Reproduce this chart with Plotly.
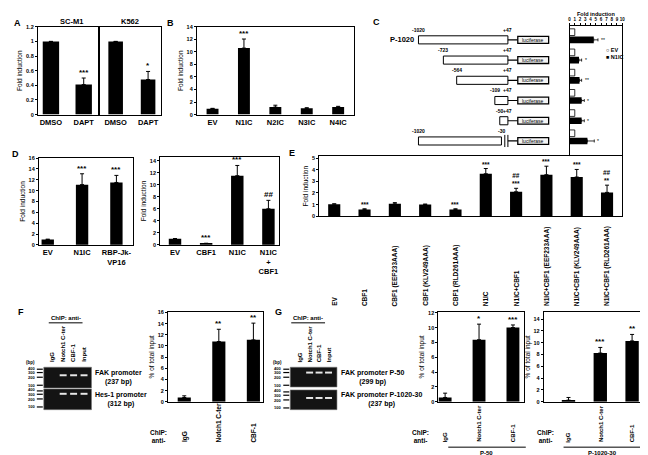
import math
import plotly.graph_objects as go

W, H = 648, 455
FONT = "Arial, Liberation Sans, sans-serif"

# ---------------- DATA ----------------
a_categories = ["DMSO", "DAPT"]
a_scm1_values = [1.0, 0.41]
a_scm1_errors = [0.0, 0.09]
a_scm1_sig = ["", "***"]
a_k562_values = [1.0, 0.48]
a_k562_errors = [0.0, 0.11]
a_k562_sig = ["", "*"]

b_categories = ["EV", "N1IC", "N2IC", "N3IC", "N4IC"]
b_values = [0.95, 10.6, 1.2, 1.0, 1.2]
b_errors = [0.05, 1.45, 0.3, 0.1, 0.12]
b_sig = ["", "***", "", "", ""]

c_constructs = ["P-1020", "P-723", "P-564", "P-109", "P-50", "P-1020-30"]
c_starts = [-1020, -723, -564, -109, -50, -1020]
c_ends = [47, 47, 47, 47, 47, -30]
c_sites = [-320, 12]
c_ev_values = [1, 1, 1, 1, 1, 1]
c_n1ic_values = [4.6, 1.8, 1.9, 2.3, 2.3, 3.4]
c_n1ic_errors = [0.8, 0.5, 0.4, 0.5, 0.5, 1.3]
c_sig = ["**", "*", "**", "*", "*", "*"]
c_ticks = list(range(0, 11))

d1_categories = ["EV", "N1IC", "RBP-Jk-VP16"]
d1_labels = ["EV", "N1IC", "RBP-Jk-<br>VP16"]
d1_values = [1.0, 11.1, 11.5]
d1_errors = [0.05, 2.0, 1.3]
d1_sig = ["", "***", "***"]

d2_categories = ["EV", "CBF1", "N1IC", "N1IC+CBF1"]
d2_labels = ["EV", "CBF1", "N1IC", "N1IC<br>+<br>CBF1"]
d2_values = [1.0, 0.22, 11.5, 6.0]
d2_errors = [0.05, 0.05, 1.7, 1.4]
d2_sig = ["", "***", "***", "##"]

e_categories = ["EV", "CBF1", "CBF1 (EEF233AAA)", "CBF1 (KLV249AAA)", "CBF1 (RLD261AAA)",
                "N1IC", "N1IC+CBF1", "N1IC+CBF1 (EEF233AAA)", "N1IC+CBF1 (KLV249AAA)",
                "N1IC+CBF1 (RLD261AAA)"]
e_values = [1.04, 0.59, 1.07, 1.0, 0.59, 3.65, 2.1, 3.57, 3.37, 2.05]
e_errors = [0.03, 0.05, 0.1, 0.05, 0.05, 0.45, 0.3, 0.73, 0.65, 0.62]
e_sig = ["", "***", "", "", "***", "***", "##<br>***", "***", "***", "##<br>**"]

chip_categories = ["IgG", "Notch1 C-ter", "CBF-1"]
f_values = [0.77, 10.8, 11.1]
f_errors = [0.3, 2.2, 3.0]
f_sig = ["", "**", "**"]
g1_values = [0.58, 8.36, 10.0]
g1_errors = [0.58, 2.1, 0.35]
g1_sig = ["", "*", "***"]
g2_values = [0.28, 8.25, 10.3]
g2_errors = [0.45, 0.95, 1.1]
g2_sig = ["", "***", "**"]

gel_lanes = ["IgG", "Notch1 C-ter", "CBF-1", "Input"]
ladder_bp = [400, 300, 200, 100]
band_present = [0, 1, 1, 1]
f_gel_products = [("FAK promoter", 237), ("Hes-1 promoter", 312)]
g_gel_products = [("FAK promoter P-50", 299), ("FAK promoter P-1020-30", 237)]

# ---------------- HELPERS ----------------
def PX(x):
    return x / W

def PY(y):
    return 1 - y / H

def xd(l, r):
    return [l / W, r / W]

def yd(t, b):
    return [1 - b / H, 1 - t / H]

fig = go.Figure()
annotations = []
shapes = []

def txt(text, x, y, size=7, bold=False, xa="center", ya="middle", angle=0, align="center", **kw):
    if bold:
        text = "<b>" + text.replace("<br>", "</b><br><b>") + "</b>"
    d = dict(text=text, x=PX(x), y=PY(y), xref="paper", yref="paper", showarrow=False,
             xanchor=xa, yanchor=ya, textangle=angle, align=align,
             font=dict(family=FONT, size=size, color="black"))
    d.update(kw)
    annotations.append(d)

axis_x = dict(showline=True, linecolor="black", linewidth=1, mirror=True, ticks="",
              showgrid=False, zeroline=False,
              tickfont=dict(family=FONT, size=7.5, color="black", weight="bold"))
axis_y = dict(showline=True, linecolor="black", linewidth=1, mirror=True, ticks="outside",
              ticklen=2, tickwidth=1, tickcolor="black", showgrid=False, zeroline=False,
              tickfont=dict(family=FONT, size=5.5, color="black", weight="bold"))

layout_axes = {}

def add_axis(n, box, xr, yr, dtick=None, ytitle=None, xlabels=None, cats=None, show_x_labels=True,
             show_y_labels=True, y_ticks=True):
    l, r, t, b = box
    xk = "xaxis" if n == 1 else f"xaxis{n}"
    yk = "yaxis" if n == 1 else f"yaxis{n}"
    ax = dict(axis_x, domain=xd(l, r), range=xr, anchor=f"y{n if n > 1 else ''}")
    if cats is not None:
        ax.update(type="category", tickvals=cats, ticktext=xlabels or cats,
                  showticklabels=show_x_labels, tickangle=0)
    ay = dict(axis_y, domain=yd(t, b), range=yr, anchor=f"x{n if n > 1 else ''}",
              showticklabels=show_y_labels)
    if dtick is not None:
        ay["dtick"] = dtick
    if not y_ticks:
        ay["ticks"] = ""
    if ytitle:
        ay["title"] = dict(text=ytitle, font=dict(family=FONT, size=6.5, color="black"), standoff=2)
    layout_axes[xk] = ax
    layout_axes[yk] = ay


def add_bars(n, cats, vals, errs, sig, width, star_size=8):
    xa = "x" if n == 1 else f"x{n}"
    ya = "y" if n == 1 else f"y{n}"
    fig.add_trace(go.Bar(x=cats, y=vals, xaxis=xa, yaxis=ya, width=width,
                         marker=dict(color="black", line=dict(width=0)),
                         error_y=dict(type="data", array=errs, arrayminus=[0] * len(errs),
                                      symmetric=False, color="black", thickness=1, width=2),
                         showlegend=False, hoverinfo="skip"))
    for c, v, e, s in zip(cats, vals, errs, sig):
        if s:
            annotations.append(dict(text="<b>" + s + "</b>", x=c, y=v + e, xref=xa, yref=ya,
                                    showarrow=False, yanchor="bottom", yshift=-1,
                                    font=dict(family=FONT, size=star_size, color="black")))

# ---------------- PANEL A ----------------
add_axis(1, (29, 91, 16, 105), [-0.4, 1.48], [0, 1.2], dtick=0.2, ytitle="Fold induction",
         cats=a_categories)
add_axis(2, (91, 153, 16, 105), [-0.5, 1.4], [0, 1.2], dtick=0.2, cats=a_categories,
         show_y_labels=False, y_ticks=False)
add_bars(1, a_categories, a_scm1_values, a_scm1_errors, a_scm1_sig, 0.5)
add_bars(2, a_categories, a_k562_values, a_k562_errors, a_k562_sig, 0.45)
txt("A", 9, 12, size=9, bold=True)
txt("SC-M1", 63, 11, size=7.5, bold=True)
txt("K562", 122, 11, size=7.5, bold=True)

# ---------------- PANEL B ----------------
add_axis(3, (189, 347, 16, 105), [-0.5, 4.5], [0, 14], dtick=2, ytitle="Fold induction",
         cats=b_categories)
add_bars(3, b_categories, b_values, b_errors, b_sig, 0.38)
txt("B", 163, 12, size=9, bold=True)

# ---------------- PANEL C ----------------
c_rows = list(range(len(c_constructs)))
c_yrange = [5.98, -0.51]
layout_axes["xaxis4"] = dict(axis_x, domain=xd(564, 617), range=[0, 10], side="top",
                             ticks="outside", ticklen=2, tickcolor="black", tickvals=c_ticks,
                             tickangle=0,
                             tickfont=dict(family=FONT, size=4.5, color="black", weight="bold"),
                             anchor="y4",
                             title=dict(text="<b>Fold induction</b>", standoff=0,
                                        font=dict(family=FONT, size=5.5, color="black")))
layout_axes["yaxis4"] = dict(axis_y, domain=yd(15, 148), range=c_yrange, ticks="",
                             showticklabels=False, anchor="x4")
fig.add_trace(go.Bar(y=c_rows, x=c_ev_values, orientation="h", xaxis="x4", yaxis="y4",
                     width=0.33, offset=-0.36,
                     marker=dict(color="white", line=dict(color="black", width=0.8)),
                     showlegend=False, hoverinfo="skip"))
fig.add_trace(go.Bar(y=c_rows, x=c_n1ic_values, orientation="h", xaxis="x4", yaxis="y4",
                     width=0.33, offset=0.02,
                     marker=dict(color="black", line=dict(width=0)),
                     error_x=dict(type="data", array=c_n1ic_errors,
                                  arrayminus=[0] * len(c_n1ic_errors), symmetric=False,
                                  color="black", thickness=0.8, width=1.5),
                     showlegend=False, hoverinfo="skip"))
for i, v, e, s in zip(c_rows, c_n1ic_values, c_n1ic_errors, c_sig):
    annotations.append(dict(text=s, x=v + e, y=i + 0.185, xref="x4", yref="y4", showarrow=False,
                            xanchor="left", xshift=1,
                            font=dict(family=FONT, size=5, color="black")))
txt("○ EV", 599, 40, size=5.5, bold=True, xa="left")
txt("■ N1IC", 599, 47, size=5.5, bold=True, xa="left")

# promoter diagram axis (bp coordinates)
LUC_X0, LUC_X1 = 165, 533
layout_axes["xaxis5"] = dict(domain=xd(400, 560), range=[-1162.3, 734.6], visible=False,
                             anchor="y5", fixedrange=True)
layout_axes["yaxis5"] = dict(domain=yd(15, 148), range=c_yrange, visible=False, anchor="x5")
site_x, site_y = [], []
for i, (s0, s1) in enumerate(zip(c_starts, c_ends)):
    yc = i + 0.185
    shapes.append(dict(type="rect", xref="x5", yref="y5", x0=s0, x1=s1, y0=yc - 0.2,
                       y1=yc + 0.2, line=dict(color="black", width=1), fillcolor="white"))
    for st in c_sites:
        if s0 <= st <= s1:
            site_x.append(st)
            site_y.append(yc)
    if s1 > 0:
        shapes.append(dict(type="line", xref="x5", yref="y5", x0=s1, x1=LUC_X0, y0=yc, y1=yc,
                           line=dict(color="black", width=1.2)))
    else:
        shapes.append(dict(type="line", xref="x5", yref="y5", x0=47, x1=47, y0=yc - 0.3,
                           y1=yc + 0.3, line=dict(color="black", width=1)))
        shapes.append(dict(type="line", xref="x5", yref="y5", x0=s1 + 40, x1=s1 + 40,
                           y0=yc - 0.3, y1=yc + 0.3, line=dict(color="black", width=1)))
        shapes.append(dict(type="line", xref="x5", yref="y5", x0=47, x1=LUC_X0, y0=yc, y1=yc,
                           line=dict(color="black", width=1.2)))
    shapes.append(dict(type="rect", xref="x5", yref="y5", x0=LUC_X0, x1=LUC_X1, y0=yc - 0.17,
                       y1=yc + 0.17, line=dict(color="black", width=1.3), fillcolor="#f4f4f4"))
    annotations.append(dict(text="luciferase", x=(LUC_X0 + LUC_X1) / 2, y=yc, xref="x5",
                            yref="y5", showarrow=False,
                            font=dict(family=FONT, size=5, color="black")))
    annotations.append(dict(text=f"<b>{s0}</b>", x=s0, y=yc - 0.5, xref="x5", yref="y5",
                            showarrow=False, font=dict(family=FONT, size=5, color="black")))
    end_lbl = f"+{s1}" if s1 > 0 else f"{s1}"
    annotations.append(dict(text=f"<b>{end_lbl}</b>", x=s1, y=yc - 0.5, xref="x5", yref="y5",
                            showarrow=False, font=dict(family=FONT, size=5, color="black")))
annotations.append(dict(text="<b>" + c_constructs[0] + "</b>", x=c_starts[0], y=0.185,
                        xref="x5", yref="y5", showarrow=False, xanchor="right", xshift=-2,
                        font=dict(family=FONT, size=7.5, color="black")))
fig.add_trace(go.Scatter(x=site_x, y=site_y, xaxis="x5", yaxis="y5", mode="markers",
                         marker=dict(color="black", size=3), showlegend=False,
                         hoverinfo="skip"))
txt("C", 370, 11, size=9, bold=True)

# ---------------- PANEL D ----------------
add_axis(6, (30, 125, 149, 237), [-0.26, 2.49], [0, 16], dtick=2, ytitle="Fold induction",
         cats=d1_categories, xlabels=d1_labels)
add_bars(6, d1_categories, d1_values, d1_errors, d1_sig, 0.36)
add_axis(7, (152, 272, 148, 237), [-0.48, 3.35], [0, 14.6], dtick=2, ytitle="Fold induction",
         cats=d2_categories, xlabels=d2_labels)
add_bars(7, d2_categories, d2_values, d2_errors, d2_sig, 0.4)
txt("D", 7, 145, size=9, bold=True)

# ---------------- PANEL E ----------------
add_axis(8, (312, 617, 147, 208), [-0.5, 9.5], [0, 5.17], dtick=1, ytitle="Fold induction",
         cats=e_categories, show_x_labels=False)
add_bars(8, e_categories, e_values, e_errors, e_sig, 0.4, star_size=6.5)
for c in e_categories:
    annotations.append(dict(text="<b>" + c + "</b>", x=c, y=PY(301), xref="x8", yref="paper",
                            showarrow=False, textangle=-90, yanchor="bottom",
                            font=dict(family=FONT, size=6.5, color="black")))
txt("E", 285, 144, size=9, bold=True)

# ---------------- PANEL F & G charts ----------------
add_axis(9, (160, 256, 305, 396), [-0.47, 2.29], [0, 16.1], dtick=2, ytitle="% of total input",
         cats=chip_categories, show_x_labels=False)
add_bars(9, chip_categories, f_values, f_errors, f_sig, 0.38)
add_axis(10, (432, 518, 305, 396), [-0.2, 2.32], [0, 12.1], dtick=2, ytitle="% of total input",
         cats=chip_categories, show_x_labels=False)
add_bars(10, chip_categories, g1_values, g1_errors, g1_sig, 0.38)
add_axis(11, (538, 642, 305, 396), [-0.78, 2.47], [0, 15.2], dtick=2, ytitle="% of total input",
         cats=chip_categories, show_x_labels=False)
add_bars(11, chip_categories, g2_values, g2_errors, g2_sig, 0.42)

for n in (9, 10, 11):
    for c in chip_categories:
        annotations.append(dict(text="<b>" + c + "</b>", x=c, y=PY(439), xref=f"x{n}",
                                yref="paper", showarrow=False, textangle=-90, yanchor="bottom",
                                font=dict(family=FONT, size=6 if n > 9 else 6.5, color="black")))

txt("ChIP:<br>anti-", 150, 431, size=6.5, bold=True)
txt("ChIP:<br>anti-", 414, 431, size=6.5, bold=True)
txt("ChIP:<br>anti-", 540, 431, size=6.5, bold=True)
shapes.append(dict(type="line", xref="paper", yref="paper", x0=PX(442), x1=PX(520),
                   y0=PY(442), y1=PY(442), line=dict(color="black", width=1)))
shapes.append(dict(type="line", xref="paper", yref="paper", x0=PX(558), x1=PX(635),
                   y0=PY(442), y1=PY(442), line=dict(color="black", width=1)))
txt("P-50", 480, 448, size=6, bold=True)
txt("P-1020-30", 597, 448, size=6, bold=True)

# ---------------- GELS ----------------
def draw_gel(left, right, tops, height, products, lane_start, lane_step, label_x, chip_x):
    for (name, bp), top in zip(products, tops):
        bottom = top + height
        shapes.append(dict(type="rect", xref="paper", yref="paper", x0=PX(left), x1=PX(right),
                           y0=PY(bottom), y1=PY(top), line=dict(color="#777777", width=0.6),
                           fillcolor="#141414"))
        prev_label = None
        for lb in ladder_bp:
            yy = top + 2 + (math.log10(max(ladder_bp)) - math.log10(lb)) * 27
            shapes.append(dict(type="line", xref="paper", yref="paper", x0=PX(left - 7),
                               x1=PX(left - 1), y0=PY(yy), y1=PY(yy),
                               line=dict(color="black", width=1.2)))
            ly = yy if prev_label is None else max(yy, prev_label + 4.6)
            if prev_label is None:
                ly = yy - 1
            prev_label = ly
            txt(str(lb), left - 7, ly, size=4, bold=True, xa="right")
        yb = top + 2 + (math.log10(max(ladder_bp)) - math.log10(bp)) * 27
        for k, present in enumerate(band_present):
            if present:
                cx = left + lane_start + k * lane_step
                shapes.append(dict(type="rect", xref="paper", yref="paper", x0=PX(cx - 3.5),
                                   x1=PX(cx + 3.5), y0=PY(yb + 1), y1=PY(yb - 1),
                                   line=dict(width=0), fillcolor="#e8e8e8"))
        txt(name + "<br>(" + str(bp) + " bp)", label_x, top + height / 2, size=7, bold=True,
            xa="left")
    for k, ln in enumerate(gel_lanes):
        txt(ln, left + lane_start + k * lane_step, 358, size=6, bold=True, ya="bottom", angle=-90)
    txt("ChIP: anti-", chip_x, 311, size=6, bold=True)
    shapes.append(dict(type="line", xref="paper", yref="paper", x0=PX(chip_x - 17),
                       x1=PX(chip_x + 17), y0=PY(316), y1=PY(316),
                       line=dict(color="black", width=1)))
    txt("(bp)", left - 13, 356, size=4.5, bold=True)


draw_gel(35, 83, [361, 383], 21, f_gel_products, 9, 10.5, 85, 57)
draw_gel(283, 330, [361, 384], 20, g_gel_products, 10, 9.5, 332, 301)
txt("F", 12, 305, size=9, bold=True)
txt("G", 271, 305, size=9, bold=True)

fig.update_layout(width=W, height=H, margin=dict(l=0, r=0, t=0, b=0),
                  paper_bgcolor="white", plot_bgcolor="white", showlegend=False,
                  barmode="overlay", annotations=annotations, shapes=shapes,
                  font=dict(family=FONT, color="black"), **layout_axes)

fig.write_html("out.html")
